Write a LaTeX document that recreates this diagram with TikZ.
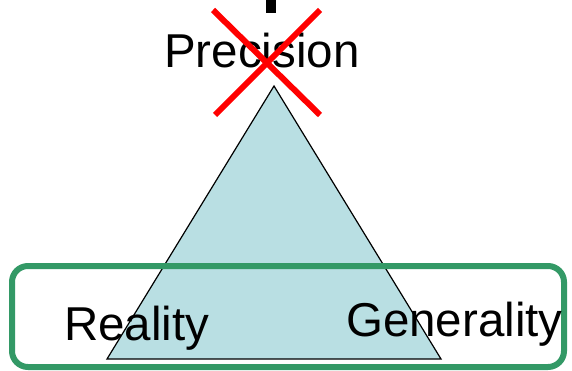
\documentclass[tikz,border=0pt]{standalone}
\usepackage{fontspec}
\setmainfont{Liberation Sans}
\definecolor{trifill}{HTML}{B9DFE3}
\definecolor{boxgreen}{HTML}{339966}
\begin{document}
\begin{tikzpicture}[x=1pt,y=-1pt,
  lbl/.style={inner sep=0pt,anchor=base west,font=\fontsize{47.5}{57}\selectfont},
  cross/.style={draw=red,line width=6pt}]
\useasboundingbox (0,0) rectangle (572,371);
% triangle
\coordinate (apex) at (274,86);
\coordinate (bl) at (107,359);
\coordinate (br) at (441,359);
\filldraw[fill=trifill,draw=black,line width=1.2pt] (apex) -- (bl) -- (br) -- cycle;
% green box
\draw[boxgreen,line width=6pt,rounded corners=16pt] (12,266) rectangle (564,367);
% top bar
\fill[black] (266,0) rectangle (276,13);
% labels
\node[lbl] (prec) at (164,68) {Precision};
\node[lbl] (real) at (64,340) {Reality};
\node[lbl] (gen) at (346,336) {Generality};
% red cross
\coordinate (x1) at (213,10);
\coordinate (x2) at (320,115);
\coordinate (x3) at (320,10);
\coordinate (x4) at (215,115);
\draw[cross] (x1) -- (x2);
\draw[cross] (x3) -- (x4);
\end{tikzpicture}
\end{document}
